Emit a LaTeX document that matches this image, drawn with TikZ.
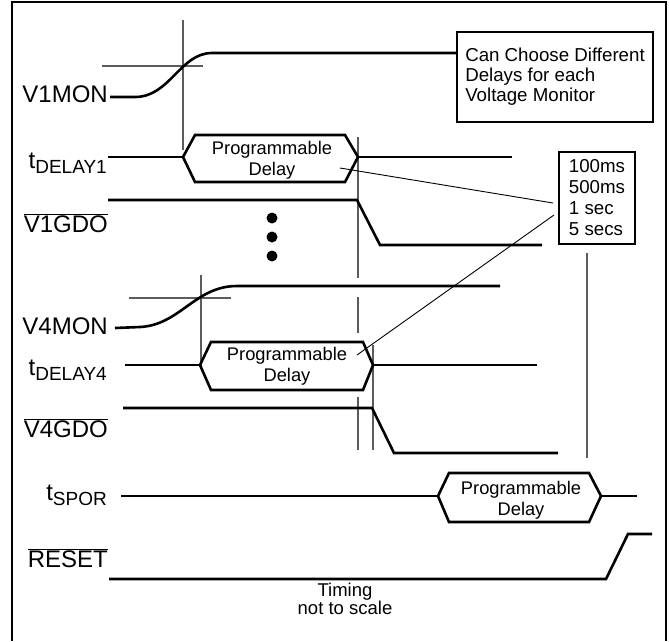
\documentclass[tikz,border=0pt]{standalone}
\usepackage{fontspec}
\setmainfont{Liberation Sans}
\usetikzlibrary{positioning, calc}
\definecolor{cursorgray}{HTML}{5C5C5C}
\newcommand{\lowtext}[1]{\raisebox{-5pt}{\fontsize{19}{20}\selectfont #1}}
\newcommand{\activelow}[1]{$\overline{\mbox{#1}}$}

\begin{document}
\begin{tikzpicture}[
    x=1pt, y=-1pt,
    sig/.style={line width=2.6pt},
    cursor/.style={draw=cursorgray, line width=1.2pt},
    leader/.style={line width=0.9pt},
    lbl/.style={font=\fontsize{24}{26}\selectfont, anchor=base east, inner sep=0pt},
    hextext/.style={font=\fontsize{18.3}{21}\selectfont, align=center, inner sep=0pt},
    box/.style={draw, line width=1.4pt, font=\fontsize{18.7}{20}\selectfont, align=left, inner sep=0pt},
]
    \useasboundingbox (0,0) rectangle (669,641);
    \draw[line width=1.3pt] (12,641) -- (12,2) -- (666,2) -- (666,641);

    % Labels
    \node[lbl] (v1mon) at (108,102) {V1MON};
    \node[lbl] (tdel1) at (107,168) {t\lowtext{DELAY1}};
    \node[lbl] (v1gdo) at (108,232) {\activelow{V1GDO}};
    \node[lbl] (v4mon) at (108,334) {V4MON};
    \node[lbl] (tdel4) at (107,375) {t\lowtext{DELAY4}};
    \node[lbl] (v4gdo) at (108,437) {\activelow{V4GDO}};
    \node[lbl] (tspor) at (107,500) {t\lowtext{SPOR}};
    \node[lbl] (reset) at (108,567) {\activelow{RESET}};

    % Notes
    \node[box, minimum width=196pt, minimum height=90pt] (choose) at (555,77)
        {Can Choose Different\\Delays for each\\Voltage Monitor};
    \node[box, minimum width=76pt, minimum height=92pt, line width=1.2pt,
        font=\fontsize{18.7}{21}\selectfont] (delays) at (597,198)
        {100ms\\500ms\\1 sec\\5 secs};

    % Threshold cursors
    \draw[cursor] (183,20) -- (183,150);
    \draw[cursor] (102,66) -- (203,66);
    \draw[cursor] (201,275) -- (201,367);
    \draw[cursor] (129,298) -- (231,298);
    \draw[cursor] (358,137) -- (358,278);
    \draw[cursor] (358,297) -- (358,333);
    \draw[cursor] (358,397) -- (358,450);
    \draw[cursor] (373,345) -- (373,450);
    \draw[cursor] (587,253) -- (587,458);

    % V1 signals
    \draw[sig] (110,97) -- (135,97) .. controls (170,97) and (180,53) .. (212,53) -- (choose.west |- 0,53);
    \draw[sig] (108,157) -- (183,157) (358,157) -- (512,157);
    \draw[sig] (183,157) -- (195,135) -- (345,135) -- (358,157) -- (345,182) -- (195,182) -- cycle;
    \node[hextext] (pd1) at (272,160) {Programmable\\Delay};
    \draw[sig] (108,200) -- (357,200) -- (380,245) -- (542,245);

    % More monitors
    \foreach \dy in {218,237,256}
        \fill (272,\dy) circle (5.5pt);

    % V4 signals
    \draw[sig] (115,328) -- (140,327) .. controls (180,325) and (195,286) .. (237,286) -- (500,286);
    \draw[sig] (125,365) -- (200,365) (373,365) -- (537,365);
    \draw[sig] (200,365) -- (211,342) -- (363,342) -- (373,365) -- (363,390) -- (211,390) -- cycle;
    \node[hextext] (pd4) at (287,366) {Programmable\\Delay};
    \draw[sig] (123,408) -- (372,408) -- (394,453) -- (558,453);

    % Reset timing
    \draw[sig] (121,496) -- (438,496) (601,496) -- (637,496);
    \draw[sig] (438,496) -- (449,473) -- (589,473) -- (601,496) -- (589,522) -- (449,522) -- cycle;
    \node[hextext] (pdspor) at (521,500) {Programmable\\Delay};
    \draw[sig] (109,579) -- (606,579) -- (628,534) -- (652,534);

    % Leaders
    \coordinate (pd1tip) at (340,168);
    \coordinate (pd4tip) at (357,355);
    \coordinate (sec1) at (553,203);
    \coordinate (sec2) at (554,215);
    \draw[leader] (pd1tip) -- (sec1);
    \draw[leader] (pd4tip) -- (sec2);

    \node[font=\fontsize{18.5}{16}\selectfont, align=center] (scale) at (345,599) {Timing\\not to scale};
\end{tikzpicture}
\end{document}
